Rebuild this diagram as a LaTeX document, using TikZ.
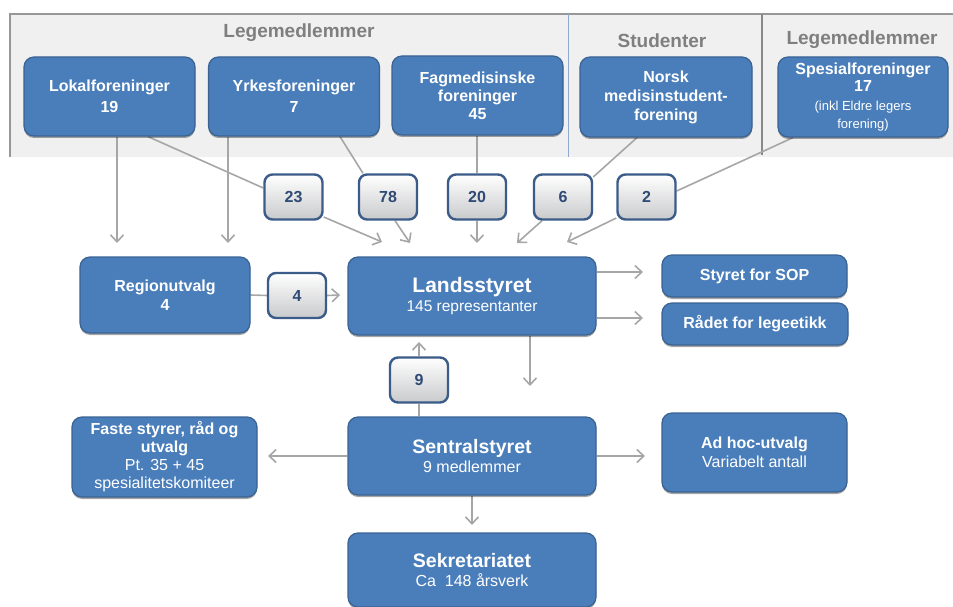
\documentclass[tikz,border=0pt]{standalone}
\usepackage{fontspec}
\setmainfont{Liberation Sans}
\usetikzlibrary{arrows.meta,shadows,calc}
\definecolor{boxblue}{HTML}{4A7EBB}
\definecolor{boxedge}{HTML}{3A6292}
\definecolor{numedge}{HTML}{3B5B88}
\definecolor{numtext}{HTML}{2E4A75}
\definecolor{numbot}{HTML}{C9CACC}
\definecolor{arrgray}{HTML}{A6A6A6}
\definecolor{bandfill}{HTML}{F0F0F0}
\definecolor{bandedge}{HTML}{979797}
\definecolor{headgray}{HTML}{7F7F7F}
\definecolor{sepblue}{HTML}{8FA9D0}
\pgfdeclarelayer{bgzero}
\pgfdeclarelayer{bgone}
\pgfsetlayers{bgzero,bgone,main}
\tikzset{
  bluebox/.style={rounded corners=10pt, fill=boxblue, draw=boxedge, line width=1.2pt,
    text=white, align=center, inner sep=1pt,
    font=\fontsize{16}{19}\selectfont,
    drop shadow={shadow xshift=0pt, shadow yshift=-2pt, opacity=0.35, fill=black}},
  numbox/.style={rounded corners=8pt, top color=white, bottom color=numbot, draw=numedge,
    line width=2.4pt, text=numtext, minimum width=58pt, minimum height=45pt,
    font=\fontsize{16}{19}\selectfont\bfseries},
  conn/.style={draw=arrgray, line width=1.6pt},
  arr/.style={conn, -{Straight Barb[length=7pt,width=13pt]}},
  heading/.style={text=headgray, font=\fontsize{19}{22}\selectfont\bfseries}
}
\begin{document}
\begin{tikzpicture}[x=1pt,y=-1pt]
\useasboundingbox (0,0) rectangle (953,607);
% band
\begin{pgfonlayer}{bgzero}
\fill[bandfill] (10,14) rectangle (953,157);
\draw[bandedge, line width=2pt] (10,157) -- (10,14) -- (953,14);
\draw[sepblue, line width=1pt] (568,14) -- (568,157);
\draw[bandedge!90!black, line width=2.5pt] (762,14) -- (762,155);
\end{pgfonlayer}
\node[heading] (h1) at (299,33) {Legemedlemmer};
\node[heading] (h2) at (662,41) {Studenter};
\node[heading] (h3) at (862,40) {Legemedlemmer};
% top boxes
\node[bluebox, minimum width=171pt, minimum height=79pt] (lok) at (109.5,96.5) {\bfseries Lokalforeninger\\[2pt]\bfseries 19};
\node[bluebox, minimum width=171pt, minimum height=79pt] (yrk) at (294,96.5) {\bfseries Yrkesforeninger\\[2pt]\bfseries 7};
\node[bluebox, minimum width=171pt, minimum height=79pt, font=\fontsize{16}{18}\selectfont] (fag) at (477.5,95.5) {\bfseries Fagmedisinske\\\bfseries foreninger\\\bfseries 45};
\node[bluebox, minimum width=172pt, minimum height=80pt, font=\fontsize{16}{19}\selectfont] (nor) at (666,97) {\bfseries Norsk\\\bfseries medisinstudent-\\\bfseries forening};
\node[bluebox, minimum width=170pt, minimum height=80pt, font=\fontsize{16}{17}\selectfont] (spe) at (863,97) {\bfseries Spesialforeninger\\\bfseries 17\\[2pt]\fontsize{13}{17}\selectfont (inkl Eldre legers\\[1pt]\fontsize{13}{17}\selectfont forening)};
% number boxes
\node[numbox] (n23) at (293.5,197) {23};
\node[numbox] (n78) at (388,197) {78};
\node[numbox] (n20) at (477,197) {20};
\node[numbox] (n6) at (563,197) {6};
\node[numbox] (n2) at (646.5,197) {2};
% middle
\node[bluebox, minimum width=170pt, minimum height=76pt] (reg) at (165,295) {\bfseries Regionutvalg\\\bfseries 4};
\node[numbox] (n4) at (297,295.5) {4};
\node[bluebox, minimum width=248pt, minimum height=78pt] (land) at (472,296) {\fontsize{21}{24}\selectfont\bfseries Landsstyret\\\fontsize{15.5}{18}\selectfont 145 representanter};
\node[bluebox, minimum width=185pt, minimum height=42pt] (sop) at (754.5,276) {\bfseries Styret for SOP};
\node[bluebox, minimum width=186pt, minimum height=42pt] (rad) at (755,324) {\bfseries Rådet for legeetikk};
\node[numbox] (n9) at (419,380) {9};
% lower
\node[bluebox, minimum width=248pt, minimum height=78pt] (sen) at (472,456) {\fontsize{19.5}{22}\selectfont\bfseries Sentralstyret\\\fontsize{16}{18}\selectfont 9 medlemmer};
\node[bluebox, minimum width=185pt, minimum height=80pt, font=\fontsize{16}{18}\selectfont] (faste) at (164.5,457) {\bfseries Faste styrer, råd og\\\bfseries utvalg\\Pt. 35 + 45\\spesialitetskomiteer};
\node[bluebox, minimum width=185pt, minimum height=79pt] (adhoc) at (754.5,452.5) {\bfseries Ad hoc-utvalg\\Variabelt antall};
\node[bluebox, minimum width=248pt, minimum height=74pt] (sek) at (472,570) {\fontsize{19.5}{22}\selectfont\bfseries Sekretariatet\\\fontsize{16}{18}\selectfont Ca\ \ 148 årsverk};
% free ends
\coordinate (e1) at (117,243);
\coordinate (e2) at (228,243);
\coordinate (e3) at (382,242);
\coordinate (e4) at (410,243);
\coordinate (e5) at (477,243);
\coordinate (e6) at (517,243);
\coordinate (e7) at (567,242);
\coordinate (e8) at (340,295);
\coordinate (e9) at (643,272);
\coordinate (e10) at (643,318);
\coordinate (e11) at (530,386);
\coordinate (e12) at (419,342);
\coordinate (e13) at (268,456);
\coordinate (e14) at (645,456);
\coordinate (e15) at (472,525);
\begin{pgfonlayer}{bgone}
\draw[arr] ([xshift=7.5pt]lok.south) -- (e1);
\draw[arr] ([xshift=-66pt]yrk.south) -- (e2);
\draw[conn] ([xshift=38.5pt]lok.south) -- ([yshift=9pt]n23.west);
\draw[arr] ([yshift=-20pt]n23.east) -- (e3);
\draw[conn] ([xshift=46pt]yrk.south) -- ([xshift=-25pt]n78.north);
\draw[arr] ([xshift=7pt]n78.south) -- (e4);
\draw[conn] ([xshift=-0.5pt]fag.south) -- (n20.north);
\draw[arr] (n20.south) -- (e5);
\draw[conn] ([xshift=-29pt]nor.south) -- ([yshift=20pt]n6.east);
\draw[arr] ([xshift=-21pt]n6.south) -- (e6);
\draw[conn] ([xshift=-70pt]spe.south) -- ([yshift=6pt]n2.east);
\draw[arr] ([yshift=-21pt]n2.west) -- (e7);
\draw[conn] (reg.east) -- (n4.west);
\draw[arr] (n4.east) -- (e8);
\draw[arr] ([yshift=24pt]land.east) -- (e9);
\draw[arr] ([yshift=-22pt]land.east) -- (e10);
\draw[arr] ([xshift=58pt]land.south) -- (e11);
\draw[conn] ([xshift=-53pt]sen.north) -- (n9.south);
\draw[arr] (n9.north) -- (e12);
\draw[arr] (sen.west) -- (e13);
\draw[arr] (sen.east) -- (e14);
\draw[arr] (sen.south) -- (e15);
\end{pgfonlayer}
\end{tikzpicture}
\end{document}
